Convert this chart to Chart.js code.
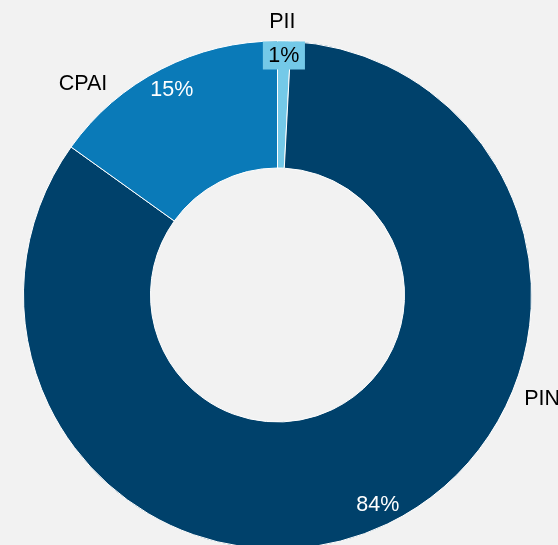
<!DOCTYPE html>
<html lang="en">
<head>
  <meta charset="UTF-8">
  <title>Doughnut</title>
  <style>
    html, body {
      margin: 0;
      padding: 0;
      background: #f2f2f2;
      overflow: hidden;
    }
    #chart {
      position: absolute;
      left: 0;
      top: 0;
    }
  </style>
  <script src="https://cdn.jsdelivr.net/npm/chart.js"></script>
</head>
<body>
  <canvas id="chart" width="558" height="560"></canvas>
  <script>
    // Data
    const categories = ['PII', 'PIN', 'CPAI'];
    const shares = [0.85, 84.05, 15.1];
    const sliceColors = ['#74c9e8', '#00416b', '#0a7ab8'];

    // Outside category labels: angle (deg, clockwise from top) and distance beyond ring
    const nameAngles = [1, 111.3, 317.5];
    const nameGaps = [20, 30, 34];

    const FONT = '21.5px "Liberation Sans", Arial, sans-serif';

    // Draws category names outside and percentages inside the ring end
    const labelPlugin = {
      id: 'sliceLabels',
      afterDatasetsDraw(chart) {
        const ctx = chart.ctx;
        const arcs = chart.getDatasetMeta(0).data;
        const total = shares.reduce((a, b) => a + b, 0);
        ctx.save();
        ctx.font = FONT;
        ctx.textBaseline = 'middle';
        ctx.textAlign = 'center';
        arcs.forEach((arc, i) => {
          const p = arc.getProps(['x', 'y', 'startAngle', 'endAngle', 'outerRadius'], true);
          const mid = (p.startAngle + p.endAngle) / 2;
          const dx = Math.cos(mid), dy = Math.sin(mid);

          // percentage, "inside end"
          const txt = Math.round(shares[i] / total * 100) + '%';
          const w = ctx.measureText(txt).width;
          const h = 20;
          const reach = Math.abs(dx) * w / 2 + Math.abs(dy) * h / 2;
          const r = p.outerRadius - reach - 4;
          const tx = p.x + dx * r, ty = p.y + dy * r;
          if (shares[i] / total < 0.02) {
            ctx.fillStyle = sliceColors[i];
            ctx.fillRect(tx - w / 2 - 5.5, ty - 14, w + 11, 28);
            ctx.fillStyle = '#000';
          } else {
            ctx.fillStyle = '#fff';
          }
          ctx.fillText(txt, tx, ty + 1);

          // category name outside
          const a = nameAngles[i] * Math.PI / 180;
          const rr = p.outerRadius + nameGaps[i];
          ctx.fillStyle = '#000';
          ctx.fillText(categories[i], p.x + Math.sin(a) * rr, p.y - Math.cos(a) * rr + 1);
        });
        ctx.restore();
      }
    };

    new Chart(document.getElementById('chart').getContext('2d'), {
      type: 'doughnut',
      data: {
        labels: categories,
        datasets: [{
          data: shares,
          backgroundColor: sliceColors,
          borderColor: '#ffffff',
          borderWidth: 1
        }]
      },
      options: {
        responsive: false,
        animation: false,
        cutout: '50%',
        layout: {
          padding: { left: 23, top: 40.5, right: 26, bottom: 10.5 }
        },
        plugins: {
          legend: { display: false },
          tooltip: { enabled: false }
        }
      },
      plugins: [labelPlugin]
    });
  </script>
</body>
</html>
